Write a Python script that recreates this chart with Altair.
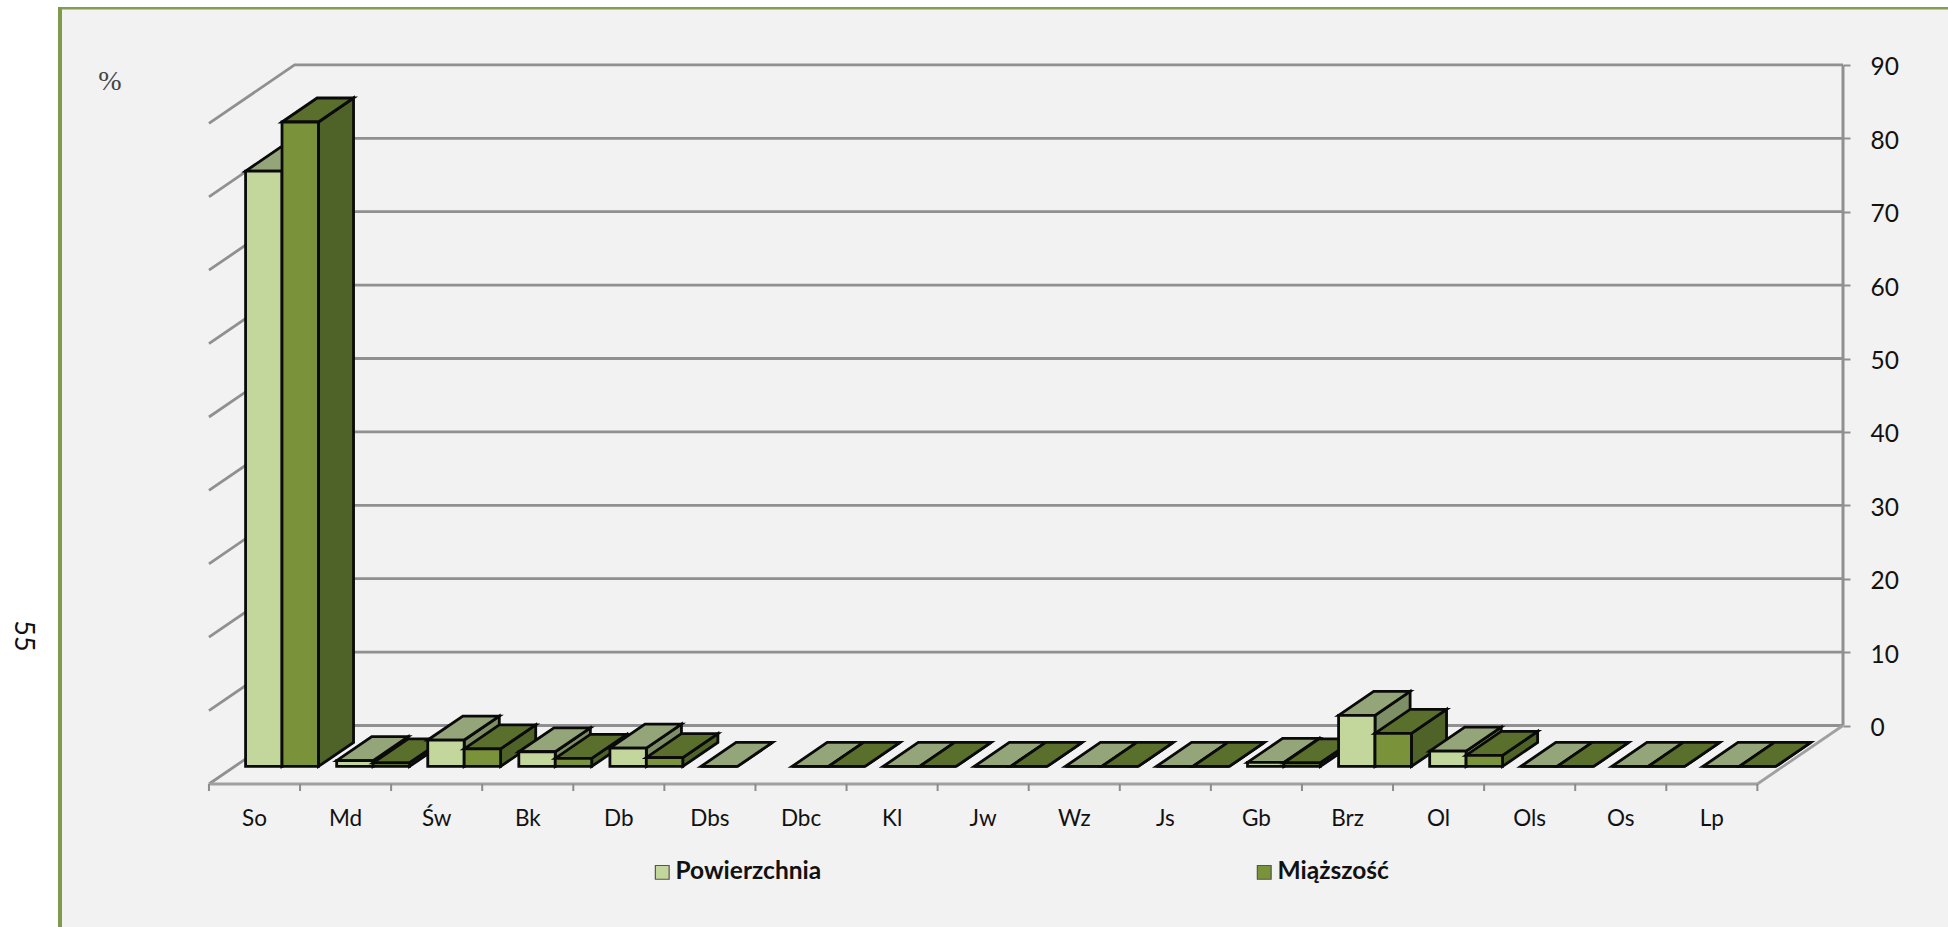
import altair as alt
import pandas as pd

# Species shares, percent of area and of standing volume
categories = ["So", "Md", "Św", "Bk", "Db", "Dbs", "Dbc", "Kl", "Jw", "Wz", "Js", "Gb", "Brz", "Ol", "Ols", "Os", "Lp"]
powierzchnia = [81.1, 0.8, 3.6, 2.0, 2.5, 0, 0, 0, 0, 0, 0, 0.55, 6.95, 2.1, 0, 0, 0]
miazszosc = [87.8, 0.5, 2.4, 1.1, 1.2, None, 0, 0, 0, 0, 0, 0.5, 4.5, 1.5, 0, 0, 0]
y_ticks = [0, 10, 20, 30, 40, 50, 60, 70, 80, 90]
series_names = ["Powierzchnia", "Miąższość"]

# Oblique projection: one unit of depth shifts right and up along the floor
DEPTH_X = 0.94
DEPTH_Y = 7.97
BAR_D0, BAR_D1 = 0.30, 0.71
BAR_W = 0.40
BAR_GAP = 0.12
N = len(categories)

PX_X = 91.1
PX_Y = 7.34
WALL_PX = 209 + N * PX_X + DEPTH_X * PX_X
x_scale = alt.Scale(domain=[-209 / PX_X, (WALL_PX - 209) / PX_X], nice=False, zero=False)
y_scale = alt.Scale(domain=[-(927 - 725.5) / PX_Y, 725.5 / PX_Y], nice=False, zero=False)

FACES = {
    "Powierzchnia": {"front": "#C3D69B", "top": "#94A57A", "side": "#7F8F65"},
    "Miąższość": {"front": "#7A933B", "top": "#5B6F2D", "side": "#4F6228"},
}


def px(cat, depth):
    return cat + depth * DEPTH_X


def py(value, depth):
    return value - (1 - depth) * DEPTH_Y


# Build every bar face as a band between a lower and an upper edge
rows = []
poly = 0


def add_face(color, points):
    global poly
    poly += 1
    for x, lo, hi in points:
        rows.append({"poly": f"p{poly:03d}", "x": x, "lo": lo, "hi": hi, "fill": color})


for i in range(N):
    for s, name in enumerate(series_names):
        v = (powierzchnia if s == 0 else miazszosc)[i]
        if v is None:
            continue
        x0 = px(i + BAR_GAP + s * BAR_W, BAR_D0)
        x1 = x0 + BAR_W
        shift = (BAR_D1 - BAR_D0) * DEPTH_X
        y0, yt = py(0, BAR_D0), py(v, BAR_D0)
        rise = (BAR_D1 - BAR_D0) * DEPTH_Y
        c = FACES[name]
        add_face(c["side"], [(x1, y0, yt), (x1 + shift, y0 + rise, yt + rise)])
        mid_a, mid_b = sorted([x0 + shift, x1])
        add_face(c["top"], [(x0, yt, yt), (mid_a, yt, yt + rise), (mid_b, yt, yt + rise), (x1 + shift, yt + rise, yt + rise)])
        add_face(c["front"], [(x0, y0, yt), (x1, y0, yt)])

faces = pd.DataFrame(rows)

# Left wall and back wall lines for each tick value
grid_rows = []
for t in y_ticks:
    for x, d in [(0, 0), (0, 1), (N, 1)]:
        grid_rows.append({"t": t, "x": px(x, d), "y": py(t, d)})
grid = pd.DataFrame(grid_rows)

Y_AXIS = alt.Axis(
    orient="right", values=y_ticks, title=None, grid=False, domain=False, zindex=1,
    tickSize=7, tickWidth=2, tickColor="#909090", labelPadding=20, labelOffset=3,
    labelFont="Lato", labelFontSize=24.5, labelColor="#111111",
)
X = lambda f: alt.X(f, type="quantitative", scale=x_scale, axis=None)
Y = lambda f: alt.Y(f, type="quantitative", scale=y_scale, axis=Y_AXIS)

# Page furniture: panel and its green edges
panel = alt.Chart(pd.DataFrame({"a": [0]})).mark_rect(color="#F2F2F2").encode(
    x=alt.value(60), x2=alt.value(1948), y=alt.value(8), y2=alt.value(927))
edge_left = alt.Chart(pd.DataFrame({"a": [0]})).mark_rect(color="#7F9A48").encode(
    x=alt.value(58), x2=alt.value(62), y=alt.value(7), y2=alt.value(927))
edge_top = alt.Chart(pd.DataFrame({"a": [0]})).mark_rect(color="#849E50").encode(
    x=alt.value(58), x2=alt.value(1948), y=alt.value(7), y2=alt.value(9.5))

grid_layer = alt.Chart(grid).mark_line(color="#909090", strokeWidth=2.8, strokeJoin="miter").encode(
    x=X("x"), y=Y("y"), detail="t:N")

floor_front = alt.Chart(pd.DataFrame({"x": [px(0, 0), px(N, 0)], "y": [py(0, 0), py(0, 0)]})).mark_line(
    color="#A0A0A0", strokeWidth=3).encode(x=X("x"), y=Y("y"))
floor_right = alt.Chart(pd.DataFrame({"x": [px(N, 0), px(N, 1)], "y": [py(0, 0), py(0, 1)]})).mark_line(
    color="#A0A0A0", strokeWidth=2.8).encode(x=X("x"), y=Y("y"))
wall_right = alt.Chart(pd.DataFrame({"x": [px(N, 1)], "y": [0], "y2": [y_ticks[-1]]})).mark_rule(
    color="#909090", strokeWidth=3).encode(x=X("x"), y=Y("y"), y2="y2")

tick_len = 7 / PX_Y
x_ticks = pd.DataFrame({"x": [px(i, 0) for i in range(N + 1)], "y": py(0, 0), "y2": py(0, 0) - tick_len})
tick_layer = alt.Chart(x_ticks).mark_rule(color="#8C8C8C", strokeWidth=2).encode(
    x=X("x"), y=Y("y"), y2="y2")

cat_labels = pd.DataFrame({"x": [i + 0.5 for i in range(N)], "label": categories, "y": py(0, 0) - 35 / PX_Y})
cat_layer = alt.Chart(cat_labels).mark_text(font="Lato", fontSize=22.5, color="#111111", baseline="middle").encode(
    x=X("x"), y=Y("y"), text="label:N")

bars = alt.Chart(faces).mark_area(
    orient="vertical", stroke="#0A0A0A", strokeWidth=2.8, strokeJoin="miter", opacity=1, interpolate="linear"
).encode(
    x=X("x"), y=Y("hi"), y2="lo", detail="poly:N",
    fill=alt.Fill("fill:N", scale=None),
)

percent = alt.Chart(pd.DataFrame({"t": ["%"]})).mark_text(
    font="Liberation Serif", fontSize=28, color="#444444", align="center", baseline="middle"
).encode(x=alt.value(110), y=alt.value(82), text="t:N")
page_no = alt.Chart(pd.DataFrame({"t": ["55"]})).mark_text(
    font="Lato", fontSize=27, color="#111111", angle=90, align="center", baseline="middle"
).encode(x=alt.value(23), y=alt.value(636), text="t:N")

legend_layer = alt.Chart(pd.DataFrame({"s": series_names})).mark_square(opacity=0).encode(
    x=alt.value(0), y=alt.value(0),
    color=alt.Color(
        "s:N",
        sort=series_names,
        scale=alt.Scale(domain=series_names, range=[FACES[n]["front"] for n in series_names]),
        legend=alt.Legend(
            title=None, orient="none", legendX=650, legendY=860, direction="horizontal", columns=2,
            columnPadding=430, symbolType="square", symbolSize=190, symbolOpacity=1,
            symbolStrokeColor="#555555", symbolStrokeWidth=1.2, labelFont="Lato", labelFontSize=24.5,
            labelFontWeight="bold", labelColor="#111111", labelOffset=1, labelLimit=300,
        ),
    ),
)

chart = alt.layer(
    panel, edge_top, edge_left, grid_layer, floor_front, floor_right, wall_right, tick_layer,
    bars, cat_layer, percent, page_no, legend_layer,
).properties(
    width=round(WALL_PX), height=927,
    padding={"left": 0, "top": 0, "right": 1948 - round(WALL_PX), "bottom": 0},
    autosize=alt.AutoSizeParams(type="none"),
    background="#FFFFFF",
).configure_view(stroke=None)

chart.save("out.html", embed_options={"renderer": "svg", "actions": False})
